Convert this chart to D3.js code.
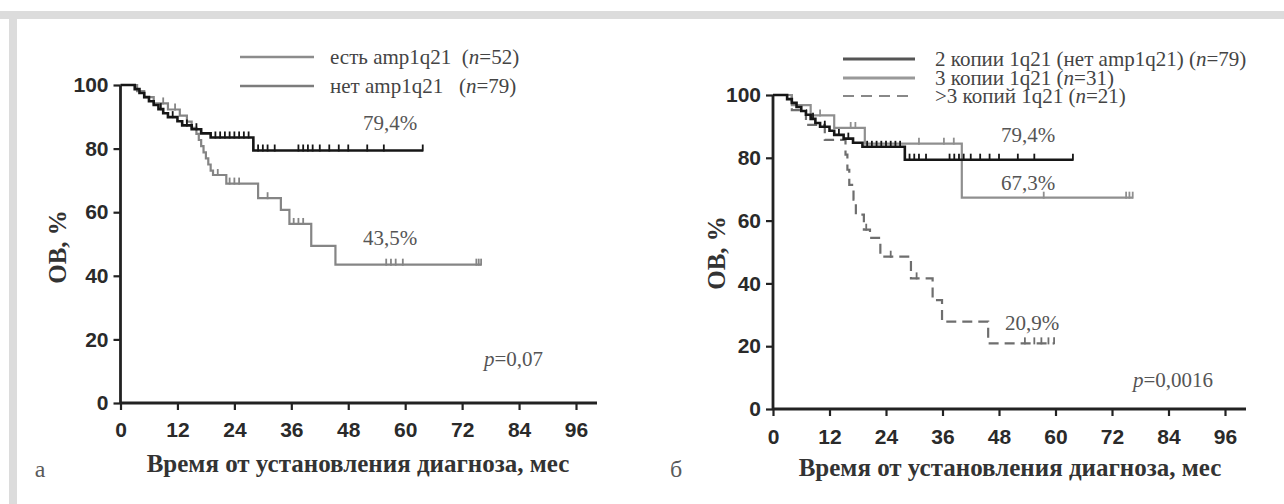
<!DOCTYPE html>
<html>
<head>
<meta charset="utf-8">
<script src="https://cdn.jsdelivr.net/npm/d3@7"></script>
<style>
  body { margin: 0; background: #fff; }
  .tick text { font-family: "Liberation Sans", Arial, sans-serif; font-weight: bold; font-size: 21px; fill: #2a2a2a; }
  .serif { font-family: "Liberation Serif", "Times New Roman", serif; }
</style>
</head>
<body>
<div id="chart"></div>
<script>
// tick values
var monthTicks = [0, 12, 24, 36, 48, 60, 72, 84, 96];
var pctTicks = [0, 20, 40, 60, 80, 100];

// no amp1q21 / 2 copies 1q21 (n=79): [month, survival %]
var noAmpSteps = [[0, 100], [3, 98.7], [4, 97.5], [5, 96.2], [6, 94.9], [7, 93.7], [8, 92.4], [9, 91.1],
  [10, 89.9], [12, 88.6], [13, 87.3], [15, 86.1], [17, 84.8], [19, 83.5], [28, 79.4]];
var noAmpEnd = 63.7;
var noAmpCensor = [8.5, 11, 14, 16, 20, 21, 22, 23, 24, 25, 26, 27, 29, 30, 31, 32.5,
  37.5, 38.5, 39.5, 40.5, 42, 44, 46, 48, 52, 55.5, 63.7];

// amp1q21 present (n=52)
var ampSteps = [[0, 100], [3.5, 98.1], [5, 96.2], [7, 94.2], [10, 92.3], [12.5, 90.4], [14, 88.5], [15, 86.5],
  [16, 84.6], [16.5, 82.7], [17, 80.8], [17.5, 78.8], [18, 76.9], [18.5, 75.0], [19, 73.1], [19.5, 71.7],
  [22.3, 69.0], [29, 64.4], [33.8, 60.7], [35.6, 56.3], [40.2, 49.4], [45.3, 43.5]];
var ampEnd = 76;
var ampCensor = [9, 11.5, 20.5, 23, 24, 25, 31, 36.5, 37.5, 38.5, 56, 57, 58, 59.5, 75, 75.5, 76];

// 3 copies 1q21 (n=31)
var copy3Steps = [[0, 100], [4, 96.8], [8, 93.5], [13, 89.5], [19.5, 84.5], [40.1, 67.3]];
var copy3End = 76.4;
var copy3Censor = [10, 16.5, 17.5, 31, 36.3, 38.4, 57.5, 75, 75.7, 76.4];

// >3 copies 1q21 (n=21)
var copyMoreSteps = [[0, 100], [4, 95.2], [7, 90.5], [11, 85.7], [15.4, 81.0], [15.8, 76.2], [16.2, 71.4],
  [17.1, 66.7], [17.6, 61.9], [19.3, 57.1], [20.6, 54.5], [22.8, 48.5], [29.3, 41.6], [33.9, 34.7],
  [35.9, 27.8], [45.7, 20.9]];
var copyMoreEnd = 59.7;
var copyMoreCensor = [19.8, 25, 30.5, 53.5, 55.5, 57, 58.5, 59.7];

var svg = d3.select("#chart").append("svg").attr("width", 1284).attr("height", 504);

// page frame
svg.append("rect").attr("x", 0).attr("y", 11).attr("width", 1284).attr("height", 8).attr("fill", "#dcdcdc");
svg.append("rect").attr("x", 9).attr("y", 11).attr("width", 8).attr("height", 493).attr("fill", "#dcdcdc");

function valueAt(steps, t) {
  var v = steps[0][1];
  steps.forEach(function (s) { if (s[0] <= t) v = s[1]; });
  return v;
}

function drawCurve(g, x, y, steps, end, censor, color, width, dash) {
  var pts = steps.concat([[end, steps[steps.length - 1][1]]]);
  var line = d3.line()
    .x(function (d) { return x(d[0]); })
    .y(function (d) { return y(d[1]); })
    .curve(d3.curveStepAfter);
  g.append("path")
    .attr("d", line(pts))
    .attr("fill", "none")
    .attr("stroke", color)
    .attr("stroke-width", width)
    .attr("stroke-dasharray", dash || null);
  g.selectAll(null)
    .data(censor)
    .enter().append("line")
    .attr("x1", function (d) { return x(d); })
    .attr("x2", function (d) { return x(d); })
    .attr("y1", function (d) { return y(valueAt(steps, d)) - 6; })
    .attr("y2", function (d) { return y(valueAt(steps, d)) + 1; })
    .attr("stroke", color)
    .attr("stroke-width", 1.8);
}

function drawAxes(g, x, y, labelOffset) {
  var xAxis = g.append("g")
    .attr("transform", "translate(0," + y(0) + ")")
    .call(d3.axisBottom(x).tickValues(monthTicks).tickSize(7).tickSizeOuter(0));
  xAxis.select(".domain").remove();
  xAxis.selectAll(".tick line").attr("stroke", "#222").attr("stroke-width", 2.2);
  xAxis.selectAll(".tick text").attr("y", labelOffset).attr("dy", "0.35em");
  xAxis.append("line")
    .attr("x1", x(0)).attr("x2", x(96) + 21)
    .attr("stroke", "#222").attr("stroke-width", 2.8);

  var yAxis = g.append("g")
    .attr("transform", "translate(" + x(0) + ",0)")
    .call(d3.axisLeft(y).tickValues(pctTicks).tickSize(7).tickSizeOuter(0).tickPadding(5));
  yAxis.select(".domain").remove();
  yAxis.selectAll(".tick line").attr("stroke", "#222").attr("stroke-width", 2.2);
  yAxis.append("line")
    .attr("y1", y(0)).attr("y2", y(100))
    .attr("stroke", "#222").attr("stroke-width", 2.8);
}

function addText(g, px, py, str, size, anchor, color, weight) {
  return g.append("text")
    .attr("class", "serif")
    .attr("x", px).attr("y", py)
    .attr("dy", "0.35em")
    .attr("text-anchor", anchor)
    .style("font-size", size + "px")
    .style("font-weight", weight || "normal")
    .attr("fill", color)
    .text(str);
}

function addNText(g, px, py, pre, post, size, color) {
  var t = g.append("text").attr("class", "serif")
    .attr("x", px).attr("y", py).attr("dy", "0.35em")
    .style("font-size", size + "px").attr("fill", color);
  t.append("tspan").text(pre);
  t.append("tspan").style("font-style", "italic").text("n");
  t.append("tspan").text(post);
  return t;
}

// ---------- panel а ----------
var xA = d3.scaleLinear().domain([0, 96]).range([120.5, 576]);
var yA = d3.scaleLinear().domain([0, 100]).range([403, 85]);
var gA = svg.append("g");

drawAxes(gA, xA, yA, 27);
drawCurve(gA, xA, yA, ampSteps, ampEnd, ampCensor, "#858585", 2.2);
drawCurve(gA, xA, yA, noAmpSteps, noAmpEnd, noAmpCensor, "#161616", 2.6);

gA.append("line").attr("x1", 240).attr("x2", 314).attr("y1", 57).attr("y2", 57).attr("stroke", "#8c8c8c").attr("stroke-width", 2.4);
gA.append("line").attr("x1", 240).attr("x2", 314).attr("y1", 86).attr("y2", 86).attr("stroke", "#7c7c7c").attr("stroke-width", 2.4);
addNText(gA, 330, 57, "есть amp1q21\u00a0\u00a0(", "=52)", 21, "#444");
addNText(gA, 330, 86, "нет amp1q21\u00a0\u00a0\u00a0(", "=79)", 21, "#444");

addText(gA, 390, 123, "79,4%", 21, "middle", "#555");
addText(gA, 390, 238, "43,5%", 21, "middle", "#555");
var pA = gA.append("text").attr("class", "serif").attr("x", 484).attr("y", 359).attr("dy", "0.35em")
  .style("font-size", "21px").attr("fill", "#555");
pA.append("tspan").style("font-style", "italic").text("p");
pA.append("tspan").text("=0,07");

addText(gA, 358, 463, "Время от установления диагноза, мес", 25, "middle", "#333", "bold");
addText(gA, 0, 0, "ОВ, %", 25, "middle", "#333", "bold")
  .attr("transform", "translate(57,247) rotate(-90)");
addText(gA, 40, 469, "а", 24, "middle", "#5a5a5a");

// ---------- panel б ----------
var xB = d3.scaleLinear().domain([0, 96]).range([773, 1225]);
var yB = d3.scaleLinear().domain([0, 100]).range([409, 95]);
var gB = svg.append("g");

drawAxes(gB, xB, yB, 28);
drawCurve(gB, xB, yB, copyMoreSteps, copyMoreEnd, copyMoreCensor, "#6e6e6e", 2.2, "10,6");
drawCurve(gB, xB, yB, copy3Steps, copy3End, copy3Censor, "#8f8f8f", 2.2);
drawCurve(gB, xB, yB, noAmpSteps, noAmpEnd, noAmpCensor, "#161616", 2.6);

gB.append("line").attr("x1", 843).attr("x2", 915).attr("y1", 59).attr("y2", 59).attr("stroke", "#555").attr("stroke-width", 3.2);
gB.append("line").attr("x1", 843).attr("x2", 915).attr("y1", 78).attr("y2", 78).attr("stroke", "#999").attr("stroke-width", 2.8);
gB.append("line").attr("x1", 843).attr("x2", 915).attr("y1", 96).attr("y2", 96).attr("stroke", "#888").attr("stroke-width", 2)
  .attr("stroke-dasharray", "11,7");
addNText(gB, 935, 59, "2 копии 1q21 (нет amp1q21) (", "=79)", 21, "#444");
addNText(gB, 935, 78, "3 копии 1q21 (", "=31)", 21, "#444");
addNText(gB, 935, 96, ">3 копий 1q21 (", "=21)", 21, "#444");

addText(gB, 1028, 135, "79,4%", 21, "middle", "#555");
addText(gB, 1028, 183, "67,3%", 21, "middle", "#555");
addText(gB, 1032, 323, "20,9%", 21, "middle", "#555");
var pB = gB.append("text").attr("class", "serif").attr("x", 1133).attr("y", 380).attr("dy", "0.35em")
  .style("font-size", "21px").attr("fill", "#555");
pB.append("tspan").style("font-style", "italic").text("p");
pB.append("tspan").text("=0,0016");

addText(gB, 1010, 467, "Время от установления диагноза, мес", 25, "middle", "#333", "bold");
addText(gB, 0, 0, "ОВ, %", 25, "middle", "#333", "bold")
  .attr("transform", "translate(716,253) rotate(-90)");
addText(gB, 676, 469, "б", 24, "middle", "#5a5a5a");
</script>
</body>
</html>
